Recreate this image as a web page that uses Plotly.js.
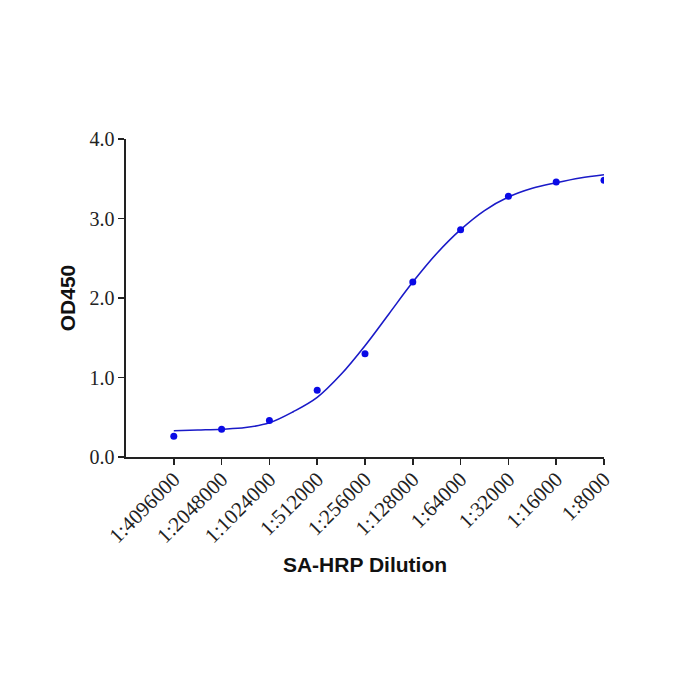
<!DOCTYPE html>
<html>
<head>
<meta charset="utf-8">
<script src="https://cdn.plot.ly/plotly-3.0.1.min.js"></script>
<style>html,body{margin:0;padding:0;background:#fff;}#chart{width:700px;height:700px;}</style>
</head>
<body>
<div id="chart"></div>
<script>
const dilutions = ["1:4096000","1:2048000","1:1024000","1:512000","1:256000","1:128000","1:64000","1:32000","1:16000","1:8000"];
const od450 = [0.26, 0.35, 0.46, 0.84, 1.30, 2.20, 2.86, 3.28, 3.46, 3.48];
// fitted curve at half-step positions
const curvePos = [0,0.5,1,1.5,2,2.5,3,3.5,4,4.5,5,5.5,6,6.5,7,7.5,8,8.5,9];
const curveOD = [0.33,0.34,0.35,0.37,0.43,0.57,0.75,1.04,1.40,1.80,2.20,2.56,2.86,3.10,3.27,3.38,3.45,3.51,3.55];
const yTicks = [0,1,2,3,4];
const yTickText = ["0.0","1.0","2.0","3.0","4.0"];

const idx = dilutions.map((d,i)=>i);

const traces = [
  {x: curvePos, y: curveOD, mode: 'lines', type: 'scatter',
   line: {color: '#1a1ac8', width: 1.6, shape: 'spline', smoothing: 1}, hoverinfo: 'skip'},
  {x: idx, y: od450, mode: 'markers', type: 'scatter',
   marker: {color: '#0a0ae6', size: 7}}
];

const layout = {
  width: 700, height: 700,
  margin: {l: 126, r: 96, t: 139, b: 243},
  paper_bgcolor: '#fff', plot_bgcolor: '#fff',
  showlegend: false,
  xaxis: {
    range: [-1, 9], tickvals: idx, ticktext: dilutions, tickangle: -45,
    showgrid: false, zeroline: false, showline: true, linecolor: '#222', linewidth: 1.6,
    ticks: 'outside', ticklen: 6, tickwidth: 1.6, tickcolor: '#222', ticklabelstandoff: -6,
    tickfont: {family: 'Liberation Serif, Times New Roman, serif', size: 21, color: '#222'},
    title: {text: 'SA-HRP Dilution', standoff: 10,
      font: {family: 'Liberation Sans, Arial, sans-serif', size: 21, color: '#111', weight: 'bold'}}
  },
  yaxis: {
    range: [0, 4], tickvals: yTicks, ticktext: yTickText,
    showgrid: false, zeroline: false, showline: true, linecolor: '#222', linewidth: 1.6,
    ticks: 'outside', ticklen: 6, tickwidth: 1.6, tickcolor: '#222',
    tickfont: {family: 'Liberation Serif, Times New Roman, serif', size: 20, color: '#222'},
    title: {text: 'OD450', standoff: 8,
      font: {family: 'Liberation Sans, Arial, sans-serif', size: 21, color: '#111', weight: 'bold'}}
  }
};

Plotly.newPlot('chart', traces, layout, {displayModeBar: false, staticPlot: true});
</script>
</body>
</html>
